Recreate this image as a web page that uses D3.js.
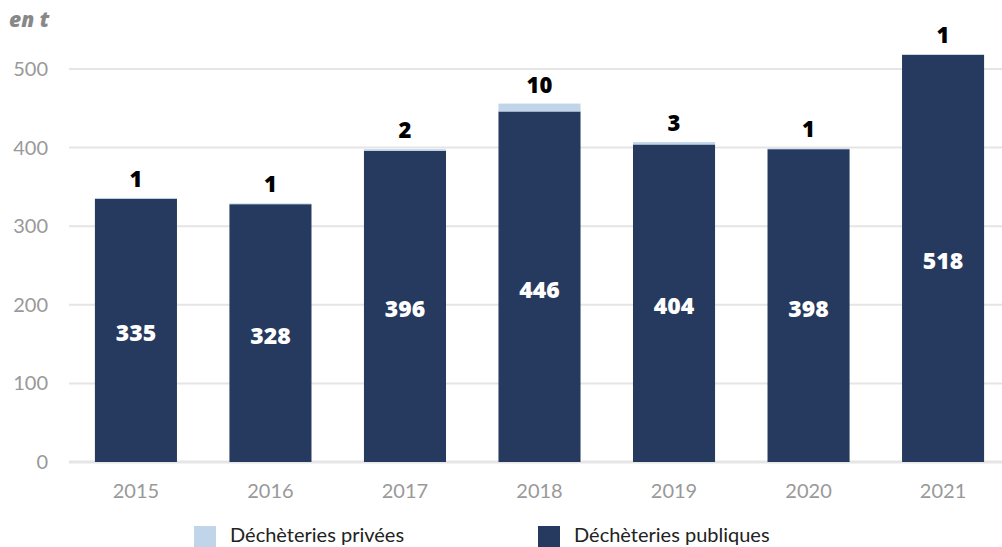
<!DOCTYPE html>
<html><head><meta charset="utf-8">
<script src="https://cdn.jsdelivr.net/npm/d3@7"></script>
<style>body{margin:0;background:#fff}svg{display:block}</style>
</head><body>
<svg id="c" width="1002" height="547"></svg>
<script>
const years = ["2015","2016","2017","2018","2019","2020","2021"];
const publiques = [335,328,396,446,404,398,518];
const privees = [1,1,2,10,3,1,1];
const yTicks = [0,100,200,300,400,500];
const seriesNames = ["Déchèteries privées","Déchèteries publiques"];
const colors = {pub:"#263a5f", priv:"#c1d5ea"};

const svg = d3.select("#c");
const x = d3.scaleBand().domain(years).range([68,1011]).paddingInner(0.39).paddingOuter(0.2);
const y = d3.scaleLinear().domain([0,500]).range([462,69]);

// grid
svg.append("g").selectAll("line").data(yTicks).join("line")
  .attr("x1",69).attr("x2",1002)
  .attr("y1",d=>y(d)).attr("y2",d=>y(d))
  .attr("stroke","#e5e5e5").attr("stroke-width",d=>d===0?3:2);

// y labels
svg.append("g").selectAll("text").data(yTicks).join("text")
  .attr("x",48).attr("y",d=>y(d)+7).attr("text-anchor","end")
  .attr("font-family","Lato, 'Open Sans', sans-serif").attr("font-size",20).attr("fill","#999")
  .text(d=>d);

svg.append("text").attr("x",9).attr("y",27)
  .attr("font-family","'Open Sans', sans-serif").attr("font-size",21)
  .attr("font-weight",800).attr("font-style","italic").attr("fill","#888").text("en t");

// bars
const g = svg.append("g");
years.forEach((yr,i)=>{
  const pub = publiques[i], pr = privees[i];
  g.append("rect").attr("x",x(yr)).attr("width",x.bandwidth())
    .attr("y",y(pub)).attr("height",y(0)-y(pub)).attr("fill",colors.pub);
  g.append("rect").attr("x",x(yr)).attr("width",x.bandwidth())
    .attr("y",y(pub+pr)).attr("height",y(pub)-y(pub+pr)).attr("fill",colors.priv);
  g.append("text").attr("x",x(yr)+x.bandwidth()/2).attr("y",(y(pub)+y(0))/2+11)
    .attr("text-anchor","middle").attr("font-family","'Open Sans', sans-serif")
    .attr("font-weight",800).attr("font-size",23).attr("fill","#fff").text(pub);
  g.append("text").attr("x",x(yr)+x.bandwidth()/2).attr("y",y(pub+pr)-11)
    .attr("text-anchor","middle").attr("font-family","'Open Sans', sans-serif")
    .attr("font-weight",800).attr("font-size",22).attr("fill","#000").text(pr);
});

// x labels
svg.append("g").selectAll("text").data(years).join("text")
  .attr("x",d=>x(d)+x.bandwidth()/2).attr("y",498).attr("text-anchor","middle")
  .attr("font-family","Lato, 'Open Sans', sans-serif").attr("font-size",20).attr("fill","#999")
  .text(d=>d);

// legend
const leg = [{n:seriesNames[0],c:colors.priv,x:194},{n:seriesNames[1],c:colors.pub,x:538}];
leg.forEach(l=>{
  svg.append("rect").attr("x",l.x).attr("y",526).attr("width",22).attr("height",21).attr("fill",l.c);
  svg.append("text").attr("x",l.x+36).attr("y",542)
    .attr("font-family","Lato, 'Open Sans', sans-serif").attr("font-size",20).attr("fill","#222").text(l.n);
});
</script>
</body></html>
